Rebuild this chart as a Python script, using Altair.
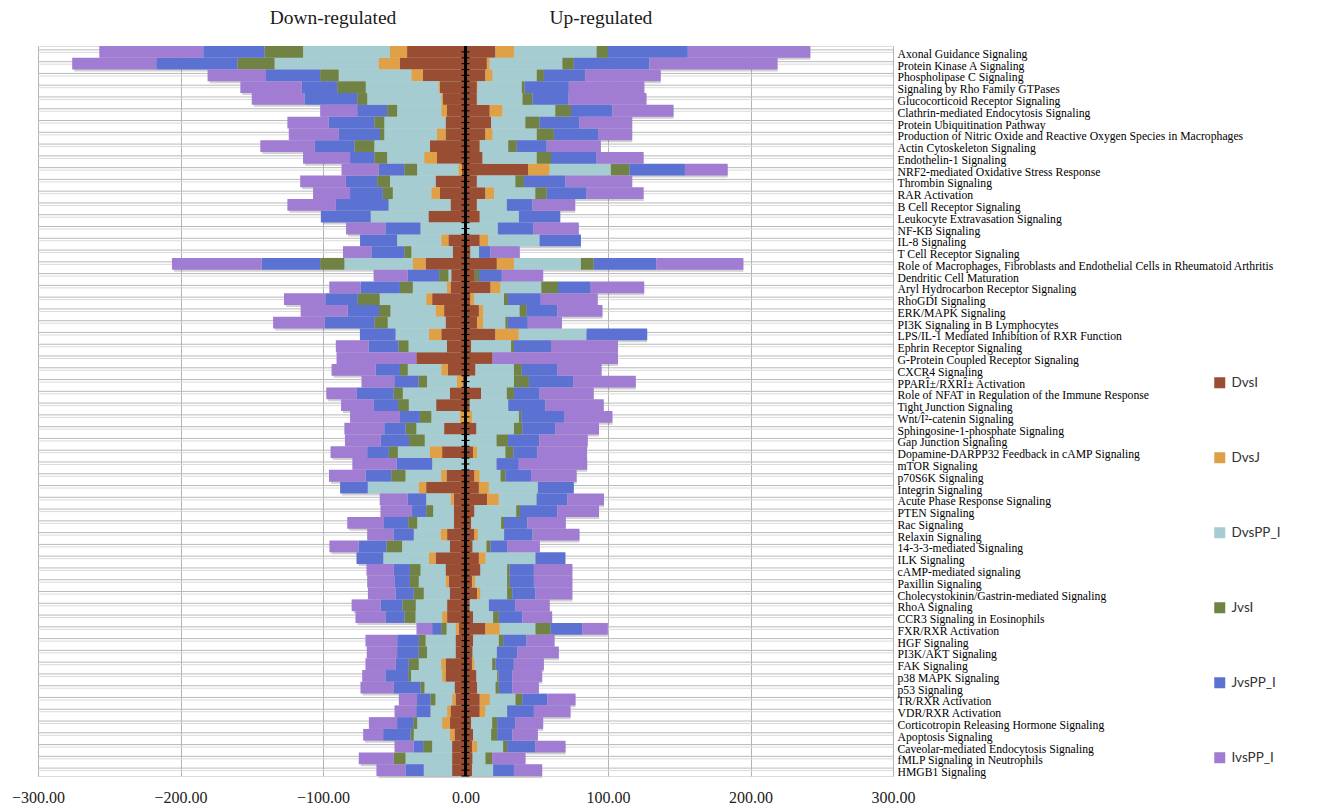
import altair as alt
import pandas as pd

# Canonical pathways, top to bottom
pathways = [
    "Axonal Guidance Signaling",
    "Protein Kinase A Signaling",
    "Phospholipase C Signaling",
    "Signaling by Rho Family GTPases",
    "Glucocorticoid Receptor Signaling",
    "Clathrin-mediated Endocytosis Signaling",
    "Protein Ubiquitination Pathway",
    "Production of Nitric Oxide and Reactive Oxygen Species in Macrophages",
    "Actin Cytoskeleton Signaling",
    "Endothelin-1 Signaling",
    "NRF2-mediated Oxidative Stress Response",
    "Thrombin Signaling",
    "RAR Activation",
    "B Cell Receptor Signaling",
    "Leukocyte Extravasation Signaling",
    "NF-KB Signaling",
    "IL-8 Signaling",
    "T Cell Receptor Signaling",
    "Role of Macrophages, Fibroblasts and Endothelial Cells in Rheumatoid Arthritis",
    "Dendritic Cell Maturation",
    "Aryl Hydrocarbon Receptor Signaling",
    "RhoGDI Signaling",
    "ERK/MAPK Signaling",
    "PI3K Signaling in B Lymphocytes",
    "LPS/IL-1 Mediated Inhibition of RXR Function",
    "Ephrin Receptor Signaling",
    "G-Protein Coupled Receptor Signaling",
    "CXCR4 Signaling",
    "PPARÎ±/RXRÎ± Activation",
    "Role of NFAT in Regulation of the Immune Response",
    "Tight Junction Signaling",
    "Wnt/Î²-catenin Signaling",
    "Sphingosine-1-phosphate Signaling",
    "Gap Junction Signaling",
    "Dopamine-DARPP32 Feedback in cAMP Signaling",
    "mTOR Signaling",
    "p70S6K Signaling",
    "Integrin Signaling",
    "Acute Phase Response Signaling",
    "PTEN Signaling",
    "Rac Signaling",
    "Relaxin Signaling",
    "14-3-3-mediated Signaling",
    "ILK Signaling",
    "cAMP-mediated signaling",
    "Paxillin Signaling",
    "Cholecystokinin/Gastrin-mediated Signaling",
    "RhoA Signaling",
    "CCR3 Signaling in Eosinophils",
    "FXR/RXR Activation",
    "HGF Signaling",
    "PI3K/AKT Signaling",
    "FAK Signaling",
    "p38 MAPK Signaling",
    "p53 Signaling",
    "TR/RXR Activation",
    "VDR/RXR Activation",
    "Corticotropin Releasing Hormone Signaling",
    "Apoptosis Signaling",
    "Caveolar-mediated Endocytosis Signaling",
    "fMLP Signaling in Neutrophils",
    "HMGB1 Signaling",
]

series = ["DvsI", "DvsJ", "DvsPP_I", "JvsI", "JvsPP_I", "IvsPP_I"]
colors = ["#994D33", "#E0A045", "#A5CCD1", "#718245", "#5B72D3", "#A07DD2"]

# Down-regulated counts per comparison (drawn to the left of zero)
down_DvsI = [41, 46, 30, 18, 16, 13, 14, 14, 25, 20, 2.5, 21, 18, 10.5, 26, 0, 12, 9, 28, 10,
             10.5, 23.4, 15, 14, 17, 13, 34.5, 12.5, 2, 11, 20.6, 0, 15, 0, 16.4, 0, 13.3, 27.6, 8.2, 8.2,
             8.2, 12.9, 11, 21, 14, 11.7, 11, 12.9, 12.9, 4.7, 7, 7, 14, 14, 7.7, 7, 10.5, 11, 7.7, 9.4,
             9.4, 9.4]
down_DvsJ = [12, 15, 8, 1, 1, 4, 0, 6, 0, 9, 2.5, 0, 6, 0, 0, 0, 5, 0, 9, 0,
             2.5, 4.2, 6, 0, 8.7, 0, 0, 4.5, 4, 0, 0, 4, 0, 0, 8.6, 0, 3.8, 5.2, 2.3, 0,
             0, 4.6, 0, 4.7, 0, 2.3, 0, 0, 3.5, 2.3, 0, 0, 3.1, 2.4, 0, 2.4, 2.4, 5.4, 3.3, 0,
             0, 0]
down_DvsPP_I = [61, 73, 51, 51, 52, 31, 43, 37, 39, 26, 29, 32, 27, 43.5, 40.5, 31.6, 31, 29, 48, 2,
                24, 32.6, 31.7, 40.6, 23.4, 27, 0, 23.5, 21, 33, 19.2, 20, 19.5, 28.6, 22.5, 23.4, 25, 35.8, 17.1, 14.5,
                25.7, 18.8, 33.5, 32, 17.6, 18.8, 18.3, 22, 18.7, 6.3, 21, 20, 15.7, 21.8, 21.1, 11.7, 11.7, 17.5, 25.3, 14,
                32.7, 19.9]
down_JvsI = [27, 26, 13, 20, 7, 7, 7, 3, 14, 9, 9, 9, 7, 0, 0, 0, 0, 5, 17, 6.5,
             9, 15.4, 8, 9.4, 0, 7, 0, 5.5, 6, 6.6, 7.5, 8, 7.5, 11, 6.3, 0, 10, 0, 0, 4.9,
             6.3, 0, 11, 0, 7.4, 6.2, 7, 9.4, 7.7, 3.8, 4.7, 5.8, 7, 2, 2.8, 3.5, 0, 2.8, 2.3, 6.3,
             8.2, 0]
down_JvsPP_I = [43, 57, 38, 25, 37, 21, 32, 29, 28, 17, 18, 22, 23, 37, 35, 24.6, 26, 23, 41, 22,
                27.6, 22.8, 22, 35, 25, 21, 0, 17, 17, 25.6, 17, 14, 15, 20, 15.2, 25, 18, 19.4, 12.9, 9.9,
                17, 14, 19.5, 18.8, 11.3, 10.9, 12.8, 15.2, 13.4, 6.3, 15.2, 15.2, 9.3, 16, 18.7, 9.4, 10, 11.3, 19.2, 6.6,
                0, 12.8]
down_IvsPP_I = [73, 59, 41, 43, 37, 26, 29, 35, 38, 33, 26, 32, 26, 34, 0, 27.6, 0, 20, 63, 24,
                22, 29, 33, 36, 0, 23, 56, 31, 23, 21.5, 23, 35, 28, 25, 25.7, 31, 25.7, 0, 19.7, 22.2,
                25.8, 18.7, 20.5, 0, 19.2, 19.1, 19.4, 20.4, 21, 11, 22.3, 21.3, 21.1, 16.3, 23.4, 12.8, 15.2, 19.8, 14, 13.5,
                24.6, 20.4]

# Up-regulated counts per comparison (drawn to the right of zero)
up_DvsI = [21, 15, 14, 8, 8, 17, 18, 14, 10, 12, 44, 8, 14, 8, 10, 0, 10, 3.5, 22, 6.5,
           17.6, 3.5, 9.4, 8.2, 21, 4, 19, 7, 0, 11, 3, 0, 7.7, 0, 5.4, 0, 6.3, 9.4, 15.2, 6.3,
           4, 6.3, 5, 9.4, 10.5, 4.7, 8.2, 3, 5.4, 14, 5.4, 5, 4.7, 7.7, 8.2, 10, 10, 4, 5.4, 4.7,
           5, 4.7]
up_DvsJ = [13, 2, 5, 0.5, 0, 9, 0, 5, 0, 0, 15, 0, 6, 0, 0, 0, 6, 0, 12, 0,
           7, 2.8, 3, 4.2, 16.4, 0, 0, 0, 0, 0, 0, 4.7, 0, 0, 2.8, 0, 3.7, 7, 8.2, 0,
           0, 2.4, 0, 4.7, 0, 2.3, 2.3, 0, 0, 10.1, 0, 0, 1.6, 0, 0, 7.1, 4, 0, 0, 3.5,
           0, 0]
up_DvsPP_I = [58, 51, 31, 31, 32, 37, 24, 31, 20, 38, 43, 27, 29, 21, 27.5, 22.7, 36, 6, 47, 0,
              28.6, 20.7, 25.6, 15.6, 47.5, 28, 0, 27, 34, 18, 27, 32.8, 26.3, 21.8, 19.8, 21.8, 14.6, 34.4, 26.5, 29.3,
              21, 18.4, 9.7, 35, 18.7, 22.2, 18.7, 13.4, 14, 25, 18, 17, 12.4, 14.5, 12.9, 18, 15.2, 14.7, 12.6, 18.2,
              9, 14.7]
up_JvsI = [8, 8, 5, 2, 7, 11, 10, 12, 6, 10, 13, 6, 8, 0, 0, 0, 0, 0, 9, 3,
           11.7, 2.8, 5, 1.7, 0, 2, 0, 5.5, 10.5, 5, 0, 1.6, 5.8, 8, 5.5, 0, 3.4, 0, 0, 2.6,
           2, 0, 2.8, 0, 1.8, 1.9, 3.6, 0, 4, 10.6, 3, 0, 2.4, 1, 2.3, 4.7, 0, 3.5, 4.2, 2.8,
           4.7, 0]
up_JvsPP_I = [56, 53, 29, 31, 25, 29, 28, 31, 21, 32, 39, 29, 28, 18, 29, 24.8, 29, 8, 44, 16,
              23, 23, 21.5, 14, 42.6, 26, 0, 25, 31, 18, 26, 30, 23.4, 22, 16.8, 15.6, 18, 25.2, 21.5, 26.2,
              16.4, 19.9, 11.7, 21, 17, 16.9, 16.3, 18.7, 16.4, 22.2, 16.4, 14.3, 12.8, 9.6, 9.4, 17.6, 18.8, 12.9, 10.6, 19.9,
              0, 14.6]
up_IvsPP_I = [86, 90, 53, 53, 55, 43, 37, 24, 38, 33, 30, 47, 40, 30, 0, 32, 0, 20.6, 61, 29,
              37.5, 40, 31.6, 24, 0, 47, 88, 31, 44, 38, 41, 34, 30.5, 34, 35, 48, 32, 0, 25.8, 29.3,
              27, 33, 23, 0, 27, 27, 25.9, 24, 21, 18, 19.7, 29.2, 21.1, 21, 18.7, 19.8, 25.7, 19.4, 18, 21.1,
              23.4, 19.8]

downs = [down_DvsI, down_DvsJ, down_DvsPP_I, down_JvsI, down_JvsPP_I, down_IvsPP_I]
ups = [up_DvsI, up_DvsJ, up_DvsPP_I, up_JvsI, up_JvsPP_I, up_IvsPP_I]

# Long table: negative values stack leftwards, positive values rightwards
records = []
for k, (name, dn, up) in enumerate(zip(series, downs, ups)):
    for p, d, u in zip(pathways, dn, up):
        records.append({"pathway": p, "series": name, "rank": k, "value": -d})
        records.append({"pathway": p, "series": name, "rank": k, "value": u})
bars_df = pd.DataFrame(records)

# Overall extent of each row, used for the soft drop shadow
extent_df = pd.DataFrame({
    "pathway": pathways,
    "low": [-sum(v) for v in zip(*downs)],
    "high": [sum(v) for v in zip(*ups)],
})

headings_df = pd.DataFrame({
    "label": ["Down-regulated", "Up-regulated"],
    "pos": [-93, 95],
})

W, H = 855, 730
row_h = H / len(pathways)

# Shared scales and axes, repeated identically in every layer so they merge cleanly
y_scale = alt.Scale(paddingInner=0, paddingOuter=0)
x_scale = alt.Scale(domain=[-300, 300], nice=False)
y_axis = alt.Axis(orient="right", title=None, ticks=False, domain=False, grid=False,
                  labelFont="Liberation Serif", labelFontSize=11.7, labelColor="#000",
                  labelPadding=4, labelLimit=600, labelOffset=2)
x_axis = alt.Axis(values=[-300, -200, -100, 0, 100, 200, 300], format=".2f", title=None,
                  ticks=False, domain=False, grid=True, gridColor="#b3b3b3", gridWidth=1,
                  labelFont="Liberation Serif", labelFontSize=16, labelColor="#222",
                  labelPadding=13, labelFlush=False)

y_enc = alt.Y("pathway:N", sort=pathways, scale=y_scale, axis=y_axis)

grid_a = alt.Chart(extent_df).mark_rule(color="#b9b9b9", strokeWidth=1, yOffset=-2).encode(y=y_enc)
grid_b = alt.Chart(extent_df).mark_rule(color="#dadada", strokeWidth=1, yOffset=0.5).encode(y=y_enc)

shadow = alt.Chart(extent_df).mark_bar(color="#7a7a7a", opacity=0.35, xOffset=2, yOffset=2).encode(
    y=y_enc,
    x=alt.X("low:Q", scale=x_scale, axis=x_axis),
    x2="high:Q",
)

bars = alt.Chart(bars_df).mark_bar(strokeWidth=0).encode(
    y=y_enc,
    x=alt.X("value:Q", stack="zero", scale=x_scale, axis=x_axis),
    color=alt.Color("series:N", scale=alt.Scale(domain=series, range=colors),
                    legend=alt.Legend(title=None, orient="none", legendX=1175, legendY=330,
                                      symbolType="square", symbolSize=121, symbolStrokeWidth=0,
                                      labelFont="Lato", labelFontSize=13.5, labelColor="#333",
                                      labelOffset=5, rowPadding=60, padding=0)),
    order=alt.Order("rank:Q", sort="ascending"),
)

zero_line = alt.Chart(extent_df).mark_rule(color="#000", strokeWidth=1.2).encode(
    x=alt.XDatum(0, scale=x_scale, axis=x_axis)
)
zero_ticks_mid = alt.Chart(extent_df).mark_rule(color="#000", strokeWidth=1.1).encode(
    y=y_enc, x=alt.XDatum(-2.8, scale=x_scale, axis=x_axis), x2=alt.X2Datum(2.8)
)
zero_ticks_edge = alt.Chart(extent_df).mark_rule(color="#000", strokeWidth=1.1, yOffset=row_h / 2).encode(
    y=y_enc, x=alt.XDatum(-2.8, scale=x_scale, axis=x_axis), x2=alt.X2Datum(2.8)
)

headings = alt.Chart(headings_df).mark_text(font="Liberation Serif", fontSize=19.5, color="#1a1a1a").encode(
    x=alt.X("pos:Q", scale=x_scale, axis=x_axis),
    y=alt.value(-28),
    text="label:N",
)

chart = alt.layer(
    grid_a, grid_b, shadow, bars, zero_line, zero_ticks_mid, zero_ticks_edge, headings
).properties(
    width=W,
    height=H,
    padding={"left": 38, "top": 46, "right": 443, "bottom": 29},
    autosize="none",
).configure_view(
    stroke="#a6a6a6", strokeWidth=1
).configure(background="white")

chart.save("out.html", embed_options={"renderer": "svg", "actions": False})
